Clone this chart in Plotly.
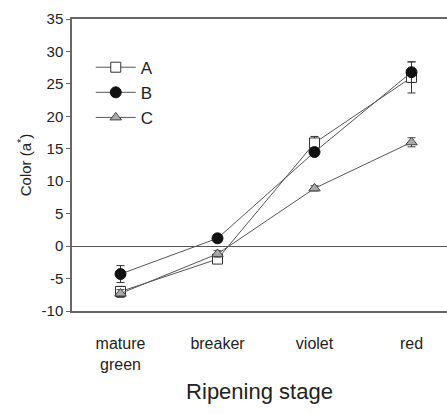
import plotly.graph_objects as go

stages = ["mature<br>green", "breaker", "violet", "red"]
a_vals = [-7.0, -2.0, 15.9, 26.0]
a_err = [0.8, 0.5, 1.0, 2.4]
b_vals = [-4.3, 1.2, 14.5, 26.8]
b_err = [1.3, 0.5, 0.6, 1.6]
c_vals = [-7.3, -1.2, 8.9, 16.0]
c_err = [0.6, 0.5, 0.4, 0.7]
y_ticks = [-10, -5, 0, 5, 10, 15, 20, 25, 30, 35]
y_tick_labels = ["-10", "-5", "0", "5", "10", "15", "20", "25", "30", "35"]

x = list(range(len(stages)))
line_col = "#555555"

fig = go.Figure()
fig.add_trace(go.Scatter(
    x=x, y=a_vals, name="A", mode="lines+markers",
    line=dict(color=line_col, width=1),
    marker=dict(symbol="square", size=10, color="white", line=dict(color="#333333", width=1)),
    error_y=dict(type="data", array=a_err, visible=True, color="#333333", thickness=1, width=4),
))
fig.add_trace(go.Scatter(
    x=x, y=b_vals, name="B", mode="lines+markers",
    line=dict(color=line_col, width=1),
    marker=dict(symbol="circle", size=11, color="#111111", line=dict(color="#111111", width=1)),
    error_y=dict(type="data", array=b_err, visible=True, color="#333333", thickness=1, width=4),
))
fig.add_trace(go.Scatter(
    x=x, y=c_vals, name="C", mode="lines+markers",
    line=dict(color=line_col, width=1),
    marker=dict(symbol="triangle-up", size=10, color="#aaaaaa", line=dict(color="#444444", width=1)),
    error_y=dict(type="data", array=c_err, visible=True, color="#444444", thickness=1, width=4),
))

fig.update_layout(
    width=447, height=414,
    margin=dict(l=72, r=0, t=19, b=103),
    paper_bgcolor="white", plot_bgcolor="white",
    font=dict(family="Liberation Sans, Arial, sans-serif", size=14, color="#222222"),
    showlegend=True,
    legend=dict(x=0.05, y=0.895, xanchor="left", yanchor="top",
                bgcolor="rgba(0,0,0,0)", font=dict(size=17),
                itemwidth=40, tracegroupgap=0),
)
fig.update_xaxes(
    range=[-0.5, 3.366], tickmode="array", tickvals=x, ticktext=stages,
    showgrid=False, zeroline=False, showline=True, linecolor="#666666", linewidth=1.5,
    mirror=True, ticks="", ticklabelstandoff=17,
    title=dict(text="Ripening stage", font=dict(size=22), standoff=12),
    tickfont=dict(size=16),
)
fig.update_yaxes(
    range=[-10, 35], tickmode="array", tickvals=y_ticks, ticktext=y_tick_labels,
    showgrid=False, zeroline=True, zerolinecolor="#555555", zerolinewidth=1,
    showline=True, linecolor="#666666", linewidth=1.5,
    ticks="outside", ticklen=4, tickcolor="#666666",
    title=dict(text="Color (a<sup>*</sup>)", font=dict(size=15), standoff=6),
    tickfont=dict(size=15),
)

fig.write_html("out.html")
